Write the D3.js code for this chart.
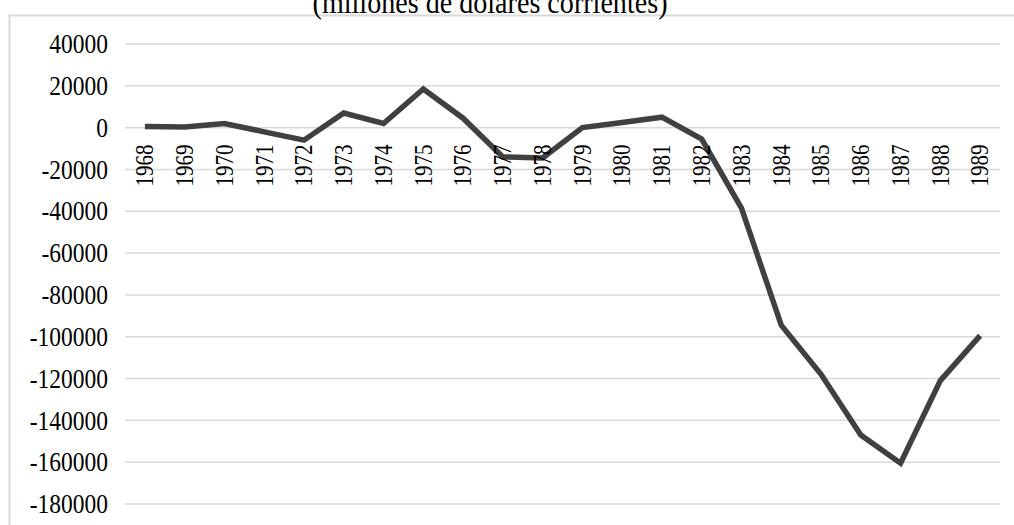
<!DOCTYPE html>
<html>
<head>
<meta charset="utf-8">
<script src="https://cdn.jsdelivr.net/npm/d3@7"></script>
<style>
  html, body { margin: 0; padding: 0; background: #fff; }
  svg { display: block; }
</style>
</head>
<body>
<svg id="chart" width="1014" height="525"></svg>
<script>
const title = "(millones de dólares corrientes)";
const years = ["1968","1969","1970","1971","1972","1973","1974","1975","1976","1977","1978",
               "1979","1980","1981","1982","1983","1984","1985","1986","1987","1988","1989"];
const values = [500, 300, 2000, -2000, -6000, 7000, 2000, 18500, 4500, -14000, -14500,
                0, 2500, 5000, -5500, -38500, -94500, -118000, -147000, -160500, -121000, -99500];
const yTicks = [40000, 20000, 0, -20000, -40000, -60000, -80000, -100000, -120000,
                -140000, -160000, -180000];

const FONT = "'Liberation Serif', 'Times New Roman', serif";
const svg = d3.select("#chart");
const plotLeft = 125, plotRight = 1000, plotTop = 44, plotBottom = 504;

// frame
svg.append("path")
  .attr("d", `M9.5,525 L9.5,15.5 L1014,15.5`)
  .attr("fill", "none").attr("stroke", "#d9d9d9").attr("stroke-width", 2);

// title (partly cut off at the top edge, as in the reference)
const t = svg.append("text")
  .attr("x", 0).attr("y", 0)
  .attr("transform", "translate(490,13) scale(1,1.12)")
  .attr("text-anchor", "middle")
  .style("font-family", FONT)
  .style("font-size", "26px")
  .attr("fill", "#000")
  .text(title);
const tw = t.node().getComputedTextLength();
t.style("font-size", (26 * 355 / tw).toFixed(2) + "px");

const x = d3.scaleBand().domain(years).range([plotLeft, plotRight]);
const y = d3.scaleLinear().domain([-180000, 40000]).range([plotBottom, plotTop]);

// gridlines
svg.append("g").selectAll("line").data(yTicks).join("line")
  .attr("x1", plotLeft).attr("x2", plotRight)
  .attr("y1", d => y(d)).attr("y2", d => y(d))
  .attr("stroke", "#d9d9d9").attr("stroke-width", 1.5);

// y axis labels
const yAxis = d3.axisLeft(y).tickValues(yTicks).tickSize(0).tickPadding(0).tickFormat(d => String(d));
const yg = svg.append("g").attr("transform", `translate(108,0)`).call(yAxis);
yg.select(".domain").remove();
yg.attr("font-family", null).attr("font-size", null);
yg.selectAll("text")
  .style("font-family", FONT).style("font-size", "23.5px")
  .attr("fill", "#000").attr("dy", "0.33em")
  .attr("transform", "scale(1,1.12)");

// line
const line = d3.line()
  .x((d, i) => x(years[i]) + x.bandwidth() / 2)
  .y(d => y(d));
svg.append("path")
  .datum(values)
  .attr("d", line)
  .attr("fill", "none")
  .attr("stroke", "#404040")
  .attr("stroke-width", 5.5)
  .attr("stroke-linejoin", "miter");

// x labels (rotated), positioned at the zero line
const xAxis = d3.axisBottom(x).tickSize(0).tickPadding(0);
const xg = svg.append("g").attr("transform", `translate(0,${y(0)})`).call(xAxis);
xg.select(".domain").remove();
xg.attr("font-family", null).attr("font-size", null);
xg.selectAll("text")
  .style("font-family", FONT).style("font-size", "21px")
  .attr("fill", "#000")
  .attr("text-anchor", "end")
  .attr("transform", "rotate(-90) scale(1,1.2)")
  .attr("x", -17)
  .attr("y", 0)
  .attr("dy", "0.33em");
</script>
</body>
</html>
